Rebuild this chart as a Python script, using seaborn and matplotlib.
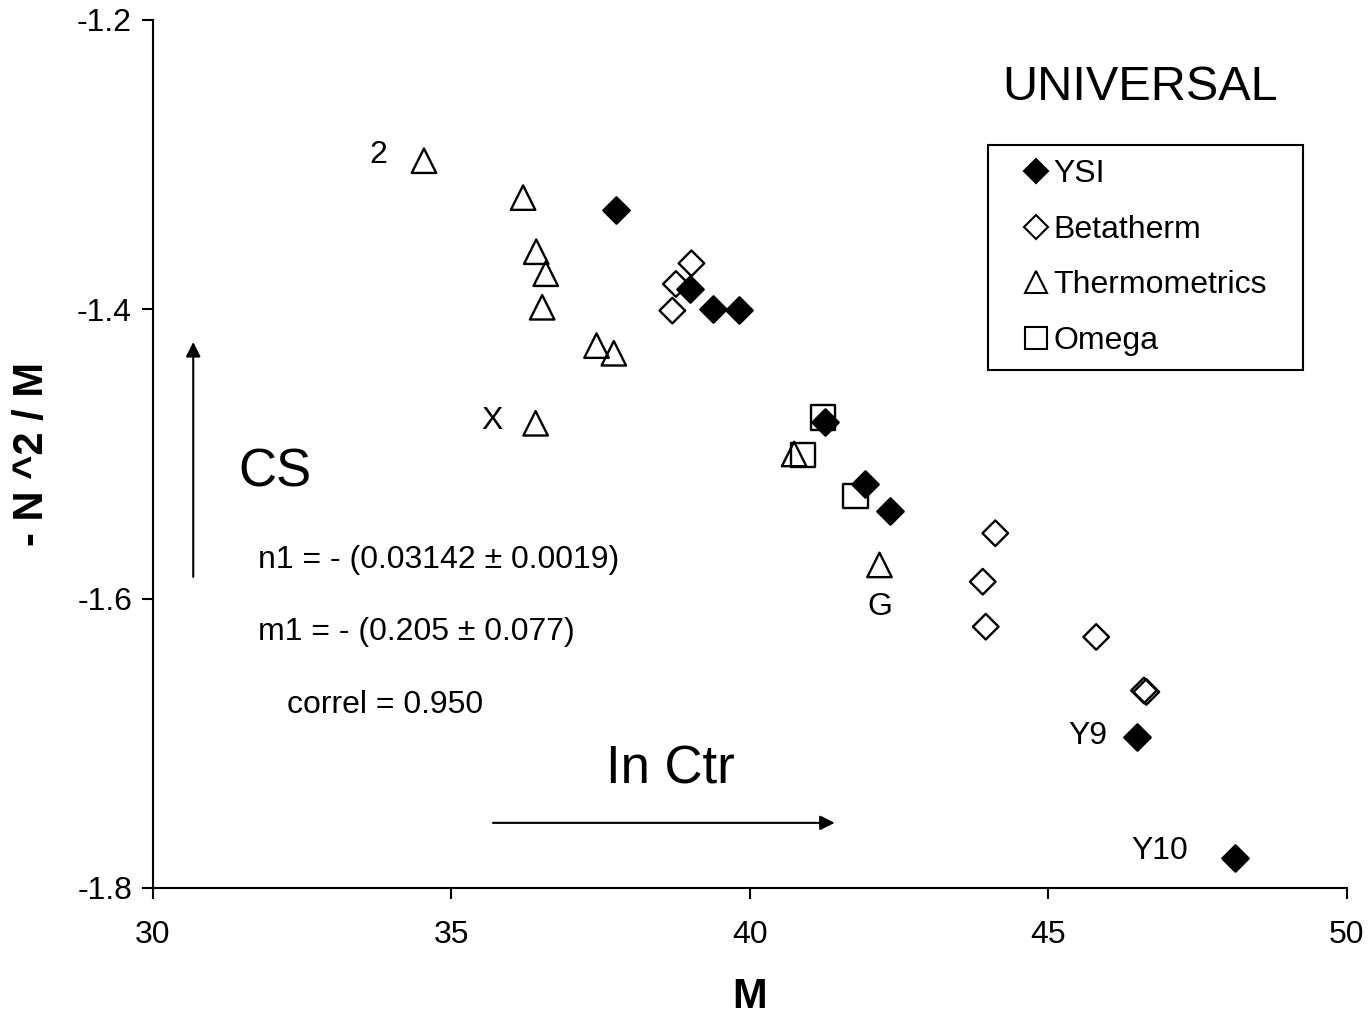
import matplotlib
matplotlib.use("Agg")
import matplotlib.pyplot as plt
from matplotlib.lines import Line2D
import seaborn as sns
import pandas as pd

# ---- data ----
ysi_x = [37.76, 38.99, 39.38, 39.82, 41.26, 41.93, 42.35, 46.48, 48.12]
ysi_y = [-1.3316, -1.3860, -1.3995, -1.4002, -1.4777, -1.5205, -1.5396, -1.6956, -1.7790]

beta_x = [39.02, 38.76, 38.70, 44.11, 43.90, 43.95, 45.80, 46.60, 46.64]
beta_y = [-1.3682, -1.3825, -1.4009, -1.5548, -1.5883, -1.6194, -1.6265, -1.6635, -1.6645]

thermo_x = [34.54, 36.20, 36.42, 36.58, 36.52, 37.43, 37.72, 36.41, 40.74, 42.17]
thermo_y = [-1.2973, -1.3228, -1.3602, -1.3754, -1.3986, -1.4251, -1.4304, -1.4788, -1.5000, -1.5767]

omega_x = [41.22, 40.89, 41.77]
omega_y = [-1.4749, -1.5009, -1.5290]

series_names = ["YSI", "Betatherm", "Thermometrics", "Omega"]

x_ticks = [30, 35, 40, 45, 50]
x_tick_labels = ["30", "35", "40", "45", "50"]
y_ticks = [-1.2, -1.4, -1.6, -1.8]
y_tick_labels = ["-1.2", "-1.4", "-1.6", "-1.8"]

point_labels = ["2", "X", "G", "Y9", "Y10"]
point_label_x = [33.77, 35.68, 42.18, 45.66, 46.87]
point_label_y = [-1.2933, -1.4770, -1.6057, -1.6950, -1.7744]

# ---- style ----
sns.set_theme(style="ticks")
plt.rcParams["font.family"] = ["Liberation Sans", "DejaVu Sans"]
plt.rcParams["text.color"] = "black"
plt.rcParams["axes.labelcolor"] = "black"

fig = plt.figure(figsize=(13.68, 10.19), dpi=100)
ax = fig.add_axes([0.1118, 0.1286, 0.8728, 0.8518])

df = pd.concat([
    pd.DataFrame({"x": ysi_x, "y": ysi_y, "s": "YSI"}),
    pd.DataFrame({"x": beta_x, "y": beta_y, "s": "Betatherm"}),
    pd.DataFrame({"x": thermo_x, "y": thermo_y, "s": "Thermometrics"}),
    pd.DataFrame({"x": omega_x, "y": omega_y, "s": "Omega"}),
])

styles = {
    "YSI": dict(marker="D", s=180, fc="black"),
    "Betatherm": dict(marker="D", s=170, fc="none"),
    "Thermometrics": dict(marker="^", s=310, fc="none"),
    "Omega": dict(marker="s", s=310, fc="none"),
}

for name in series_names:
    sub = df[df["s"] == name]
    st = styles[name]
    sns.scatterplot(data=sub, x="x", y="y", marker=st["marker"], s=st["s"],
                    color="black", edgecolor="black", linewidth=1.7,
                    ax=ax, legend=False, zorder=3)
    coll = ax.collections[-1]
    coll.set_facecolor(st["fc"])
    coll.set_edgecolor("black")

ax.set_xlim(30, 50)
ax.set_ylim(-1.8, -1.2)
ax.set_xticks(x_ticks)
ax.set_xticklabels(x_tick_labels)
ax.set_yticks(y_ticks)
ax.set_yticklabels(y_tick_labels)
ax.tick_params(axis="both", direction="out", length=8, width=1.5, color="black",
               labelsize=23, labelcolor="black")
ax.tick_params(axis="x", pad=15)
ax.tick_params(axis="y", pad=7)
for side in ["top", "right"]:
    ax.spines[side].set_visible(False)
for side in ["left", "bottom"]:
    ax.spines[side].set_color("black")
    ax.spines[side].set_linewidth(1.5)
ax.set_facecolor("white")
ax.grid(False)

ax.set_xlabel("M", fontsize=30, fontweight="bold", color="black", va="center")
ax.xaxis.set_label_coords(0.5, (888 - 997) / 868)
ax.set_ylabel("- N ^2 / M", fontsize=30, fontweight="bold", color="black", va="center")
ax.yaxis.set_label_coords((32 - 153) / 1194, 0.5)

# ---- annotations ----
ax.text(46.53, -1.247, "UNIVERSAL", fontsize=35, ha="center", va="center", color="black")
ax.text(32.04, -1.513, "CS", fontsize=38, ha="center", va="center", color="black")
ax.text(38.66, -1.7184, "In Ctr", fontsize=38, ha="center", va="center", color="black")
ax.text(31.76, -1.5733, "n1 = - (0.03142 \u00b1 0.0019)", fontsize=23, ha="left", va="center", color="black")
ax.text(31.76, -1.6230, "m1 = - (0.205 \u00b1 0.077)", fontsize=23, ha="left", va="center", color="black")
ax.text(32.245, -1.6735, "correl = 0.950", fontsize=23, ha="left", va="center", color="black")

for lbl, lx, ly in zip(point_labels, point_label_x, point_label_y):
    ax.text(lx, ly, lbl, fontsize=23, ha="center", va="center", color="black")

arrow_kw = dict(arrowstyle="-|>", color="black", lw=1.5, mutation_scale=22,
                shrinkA=0, shrinkB=0)
ax.annotate("", xy=(30.675, -1.4226), xytext=(30.675, -1.585), arrowprops=arrow_kw)
ax.annotate("", xy=(41.42, -1.755), xytext=(35.695, -1.755), arrowprops=arrow_kw)

# ---- legend ----
handles = [
    Line2D([], [], ls="none", marker="D", ms=12, mfc="black", mec="black", mew=1.5),
    Line2D([], [], ls="none", marker="D", ms=12, mfc="white", mec="black", mew=1.5),
    Line2D([], [], ls="none", marker="^", ms=16, mfc="white", mec="black", mew=1.5),
    Line2D([], [], ls="none", marker="s", ms=16, mfc="white", mec="black", mew=1.5),
]
leg = ax.legend(handles, series_names, loc="upper left",
                bbox_to_anchor=(988 / 1368, 1 - 145 / 1019, 315 / 1368, 0.0),
                bbox_transform=fig.transFigure, mode="expand",
                fontsize=23, frameon=True, fancybox=False, shadow=False,
                borderpad=0.45, handlelength=2.1, handletextpad=-0.5,
                labelspacing=0.8, borderaxespad=0, labelcolor="black")
leg.get_frame().set_edgecolor("black")
leg.get_frame().set_linewidth(1.5)
leg.get_frame().set_facecolor("white")
leg.get_frame().set_alpha(1)

fig.savefig("out.png", dpi=100, facecolor="white")
